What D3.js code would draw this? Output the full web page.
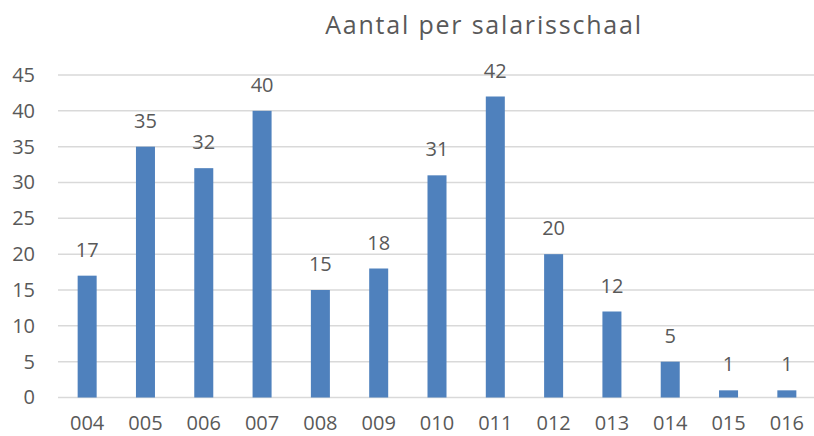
<!DOCTYPE html>
<html>
<head>
<meta charset="utf-8">
<script src="https://cdn.jsdelivr.net/npm/d3@7"></script>
<style>
  body { margin: 0; background: #fff; }
  #chart { width: 814px; height: 436px; }
</style>
</head>
<body>
<div id="chart"></div>
<script>
const schalen = ["004", "005", "006", "007", "008", "009", "010", "011", "012", "013", "014", "015", "016"];
const aantallen = [17, 35, 32, 40, 15, 18, 31, 42, 20, 12, 5, 1, 1];
const yTicks = [0, 5, 10, 15, 20, 25, 30, 35, 40, 45];

const width = 814, height = 436;
const plotLeft = 58, plotRight = 816, plotTop = 75, plotBottom = 397.5;
const textColor = "#595959";
const font = "'Open Sans', sans-serif";

const svg = d3.select("#chart")
  .append("svg")
  .attr("width", width)
  .attr("height", height);

const x = d3.scaleBand()
  .domain(schalen)
  .range([plotLeft, plotRight])
  .paddingInner(0.674)
  .paddingOuter(0.337);

const y = d3.scaleLinear()
  .domain([0, 45])
  .range([plotBottom, plotTop]);

// title
svg.append("text")
  .attr("x", 484)
  .attr("y", 34)
  .attr("text-anchor", "middle")
  .attr("font-family", font)
  .attr("font-size", "25px")
  .attr("letter-spacing", "1.8px")
  .attr("fill", textColor)
  .text("Aantal per salarisschaal");

// gridlines
svg.append("g")
  .selectAll("line")
  .data(yTicks)
  .enter()
  .append("line")
  .attr("x1", plotLeft)
  .attr("x2", plotRight)
  .attr("y1", d => y(d))
  .attr("y2", d => y(d))
  .attr("stroke", "#d9d9d9")
  .attr("stroke-width", 1.5);

// y axis labels
const yAxis = svg.append("g")
  .attr("transform", `translate(${plotLeft - 23},0)`)
  .call(d3.axisLeft(y).tickValues(yTicks).tickSize(0).tickPadding(0));
yAxis.select(".domain").remove();
yAxis.selectAll("text")
  .attr("font-family", font)
  .attr("font-size", "20px")
  .attr("fill", textColor);

// x axis labels
const xAxis = svg.append("g")
  .attr("transform", `translate(0,${plotBottom})`)
  .call(d3.axisBottom(x).tickSize(0).tickPadding(18));
xAxis.select(".domain").remove();
xAxis.selectAll("text")
  .attr("font-family", font)
  .attr("font-size", "20px")
  .attr("fill", textColor);

// bars
svg.append("g")
  .selectAll("rect")
  .data(aantallen)
  .enter()
  .append("rect")
  .attr("x", (d, i) => x(schalen[i]))
  .attr("y", d => y(d))
  .attr("width", x.bandwidth())
  .attr("height", d => y(0) - y(d))
  .attr("fill", "#4f81bd");

// value labels
svg.append("g")
  .selectAll("text")
  .data(aantallen)
  .enter()
  .append("text")
  .attr("x", (d, i) => x(schalen[i]) + x.bandwidth() / 2)
  .attr("y", d => y(d) - 19)
  .attr("text-anchor", "middle")
  .attr("font-family", font)
  .attr("font-size", "20px")
  .attr("fill", textColor)
  .text(d => d);
</script>
</body>
</html>
